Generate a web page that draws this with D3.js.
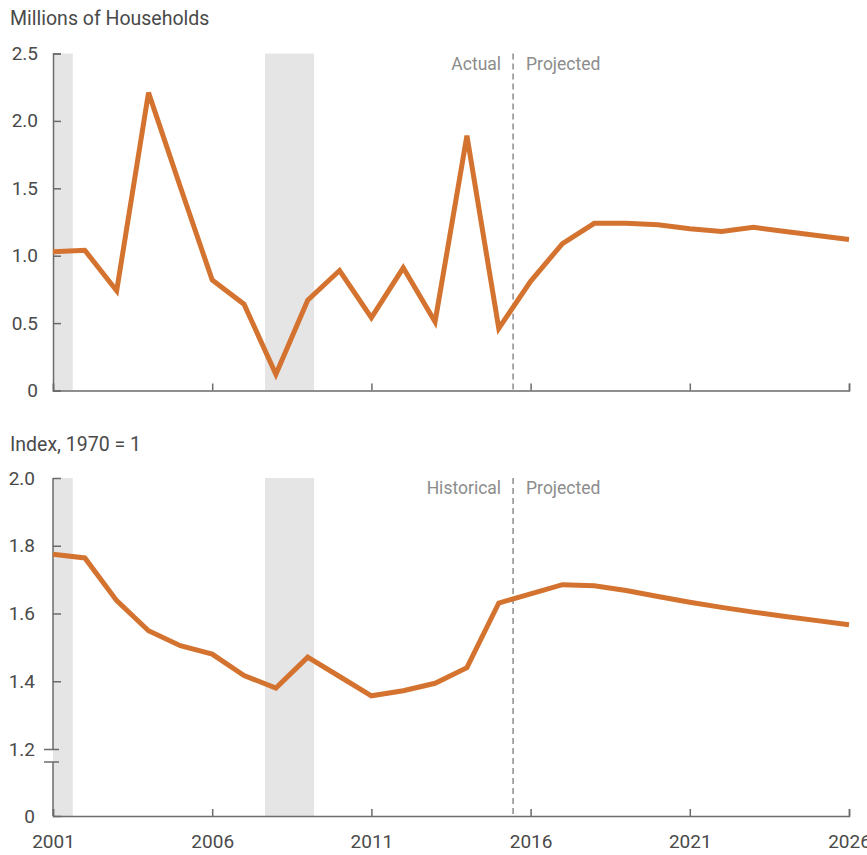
<!DOCTYPE html>
<html>
<head>
<meta charset="utf-8">
<script src="https://cdn.jsdelivr.net/npm/d3@7"></script>
<style>
  body { margin: 0; background: #fff; }
  svg text { font-family: Roboto, "Noto Sans", sans-serif; }
</style>
</head>
<body>
<div class="chart"></div>
<script>
// data
const years = d3.range(2001, 2027);
const households = [1.03, 1.04, 0.74, 2.21, 1.51, 0.82, 0.64, 0.12, 0.67, 0.89,
  0.54, 0.91, 0.51, 1.89, 0.46, 0.81, 1.09, 1.24, 1.24, 1.23,
  1.20, 1.18, 1.21, 1.18, 1.15, 1.12];
const indexValues = [1.775, 1.764, 1.638, 1.549, 1.505, 1.480, 1.417, 1.380, 1.471, 1.414,
  1.357, 1.372, 1.394, 1.440, 1.631, 1.658, 1.685, 1.682, 1.668, 1.650,
  1.633, 1.618, 1.604, 1.591, 1.579, 1.567];
const recessions = [[2001, 2001.62], [2007.66, 2009.2]];
const projectionStart = 2015.45;
const xTicks = [2001, 2006, 2011, 2016, 2021, 2026];
const topTicks = [0, 0.5, 1.0, 1.5, 2.0, 2.5];
const bottomTicks = [0, 1.2, 1.4, 1.6, 1.8, 2.0];

const width = 867, height = 855;
const lineColor = '#d4732f';
const axisColor = '#6b6b6b';
const textColor = '#4a4a4a';
const noteColor = '#8c8c8c';

const svg = d3.select('.chart')
  .append('svg')
    .attr('width', width)
    .attr('height', height);

const x = d3.scaleLinear()
  .domain([2001, 2026])
  .range([53, 849]);

// top panel
const yTop = d3.scaleLinear()
  .domain([0, 2.5])
  .range([390.5, 53.5]);

// bottom panel: broken axis between 0 and 1.2
const yBot = d3.scaleLinear()
  .domain([0, 1.2, 2.0])
  .range([816, 749, 478]);

function panel(y, yTicks, values, yFormat, top, bottom, notes, title, titleY, showYears) {
  const g = svg.append('g');

  // recession shading
  g.selectAll('rect.rec')
    .data(recessions)
    .enter()
    .append('rect')
      .attr('class', 'rec')
      .attr('x', d => x(d[0]))
      .attr('width', d => x(d[1]) - x(d[0]))
      .attr('y', top)
      .attr('height', bottom - top)
      .attr('fill', '#e5e5e5');

  // projection divider
  g.append('line')
    .attr('x1', x(projectionStart))
    .attr('x2', x(projectionStart))
    .attr('y1', top)
    .attr('y2', bottom)
    .attr('stroke', noteColor)
    .attr('stroke-width', 1.5)
    .attr('stroke-dasharray', '6,4');

  g.append('text')
    .attr('x', x(projectionStart) - 12)
    .attr('y', top + 16)
    .attr('text-anchor', 'end')
    .attr('fill', noteColor)
    .style('font-size', '17.5px')
    .text(notes[0]);

  g.append('text')
    .attr('x', x(projectionStart) + 13)
    .attr('y', top + 16)
    .attr('fill', noteColor)
    .style('font-size', '17.5px')
    .text(notes[1]);

  // axes
  const xAxis = d3.axisBottom(x)
    .tickValues(xTicks)
    .tickSize(-7)
    .tickPadding(19)
    .tickFormat(showYears ? d3.format('d') : '');

  const xAxisGroup = g.append('g')
    .attr('transform', `translate(0, ${bottom})`)
    .call(xAxis);

  const yAxis = d3.axisLeft(y)
    .tickValues(yTicks)
    .tickSize(-8)
    .tickPadding(showYears ? 18 : 15)
    .tickFormat(yFormat);

  const yAxisGroup = g.append('g')
    .attr('transform', `translate(${x(2001)}, 0)`)
    .call(yAxis);

  [xAxisGroup, yAxisGroup].forEach(a => {
    a.selectAll('path, line').attr('stroke', axisColor).attr('stroke-width', 1.5);
    a.selectAll('text')
      .attr('fill', textColor)
      .style('font-size', '19px');
  });

  // title
  svg.append('text')
    .attr('x', 10)
    .attr('y', titleY)
    .attr('fill', textColor)
    .style('font-size', '19.5px')
    .text(title);

  // series line
  const line = d3.line()
    .x((d, i) => x(years[i]))
    .y(d => y(d));

  g.append('path')
    .datum(values)
    .attr('d', line)
    .attr('fill', 'none')
    .attr('stroke', lineColor)
    .attr('stroke-width', 5);

  return yAxisGroup;
}

panel(yTop, topTicks, households, d => d === 0 ? '0' : d3.format('.1f')(d),
  53.5, 390.5, ['Actual', 'Projected'], 'Millions of Households', 25, false);

const botAxis = panel(yBot, bottomTicks, indexValues, d => d === 0 ? '0' : d3.format('.1f')(d),
  478, 816, ['Historical', 'Projected'], 'Index, 1970 = 1', 451, true);

// redraw the bottom y axis line with a break
botAxis.select('.domain').remove();
botAxis.selectAll('.tick')
  .filter(d => d === 1.2)
  .select('line')
    .attr('x1', -9)
    .attr('x2', 6);

const brk = yBot(1.2) + 13;
botAxis.append('line')
  .attr('x1', 0).attr('x2', 0)
  .attr('y1', yBot(2.0)).attr('y2', yBot(1.2))
  .attr('stroke', axisColor).attr('stroke-width', 1.5);
botAxis.append('line')
  .attr('x1', 0).attr('x2', 0)
  .attr('y1', brk).attr('y2', yBot(0))
  .attr('stroke', axisColor).attr('stroke-width', 1.5);
botAxis.append('line')
  .attr('x1', -9).attr('x2', 6)
  .attr('y1', brk).attr('y2', brk)
  .attr('stroke', axisColor).attr('stroke-width', 1.5);
</script>
</body>
</html>
